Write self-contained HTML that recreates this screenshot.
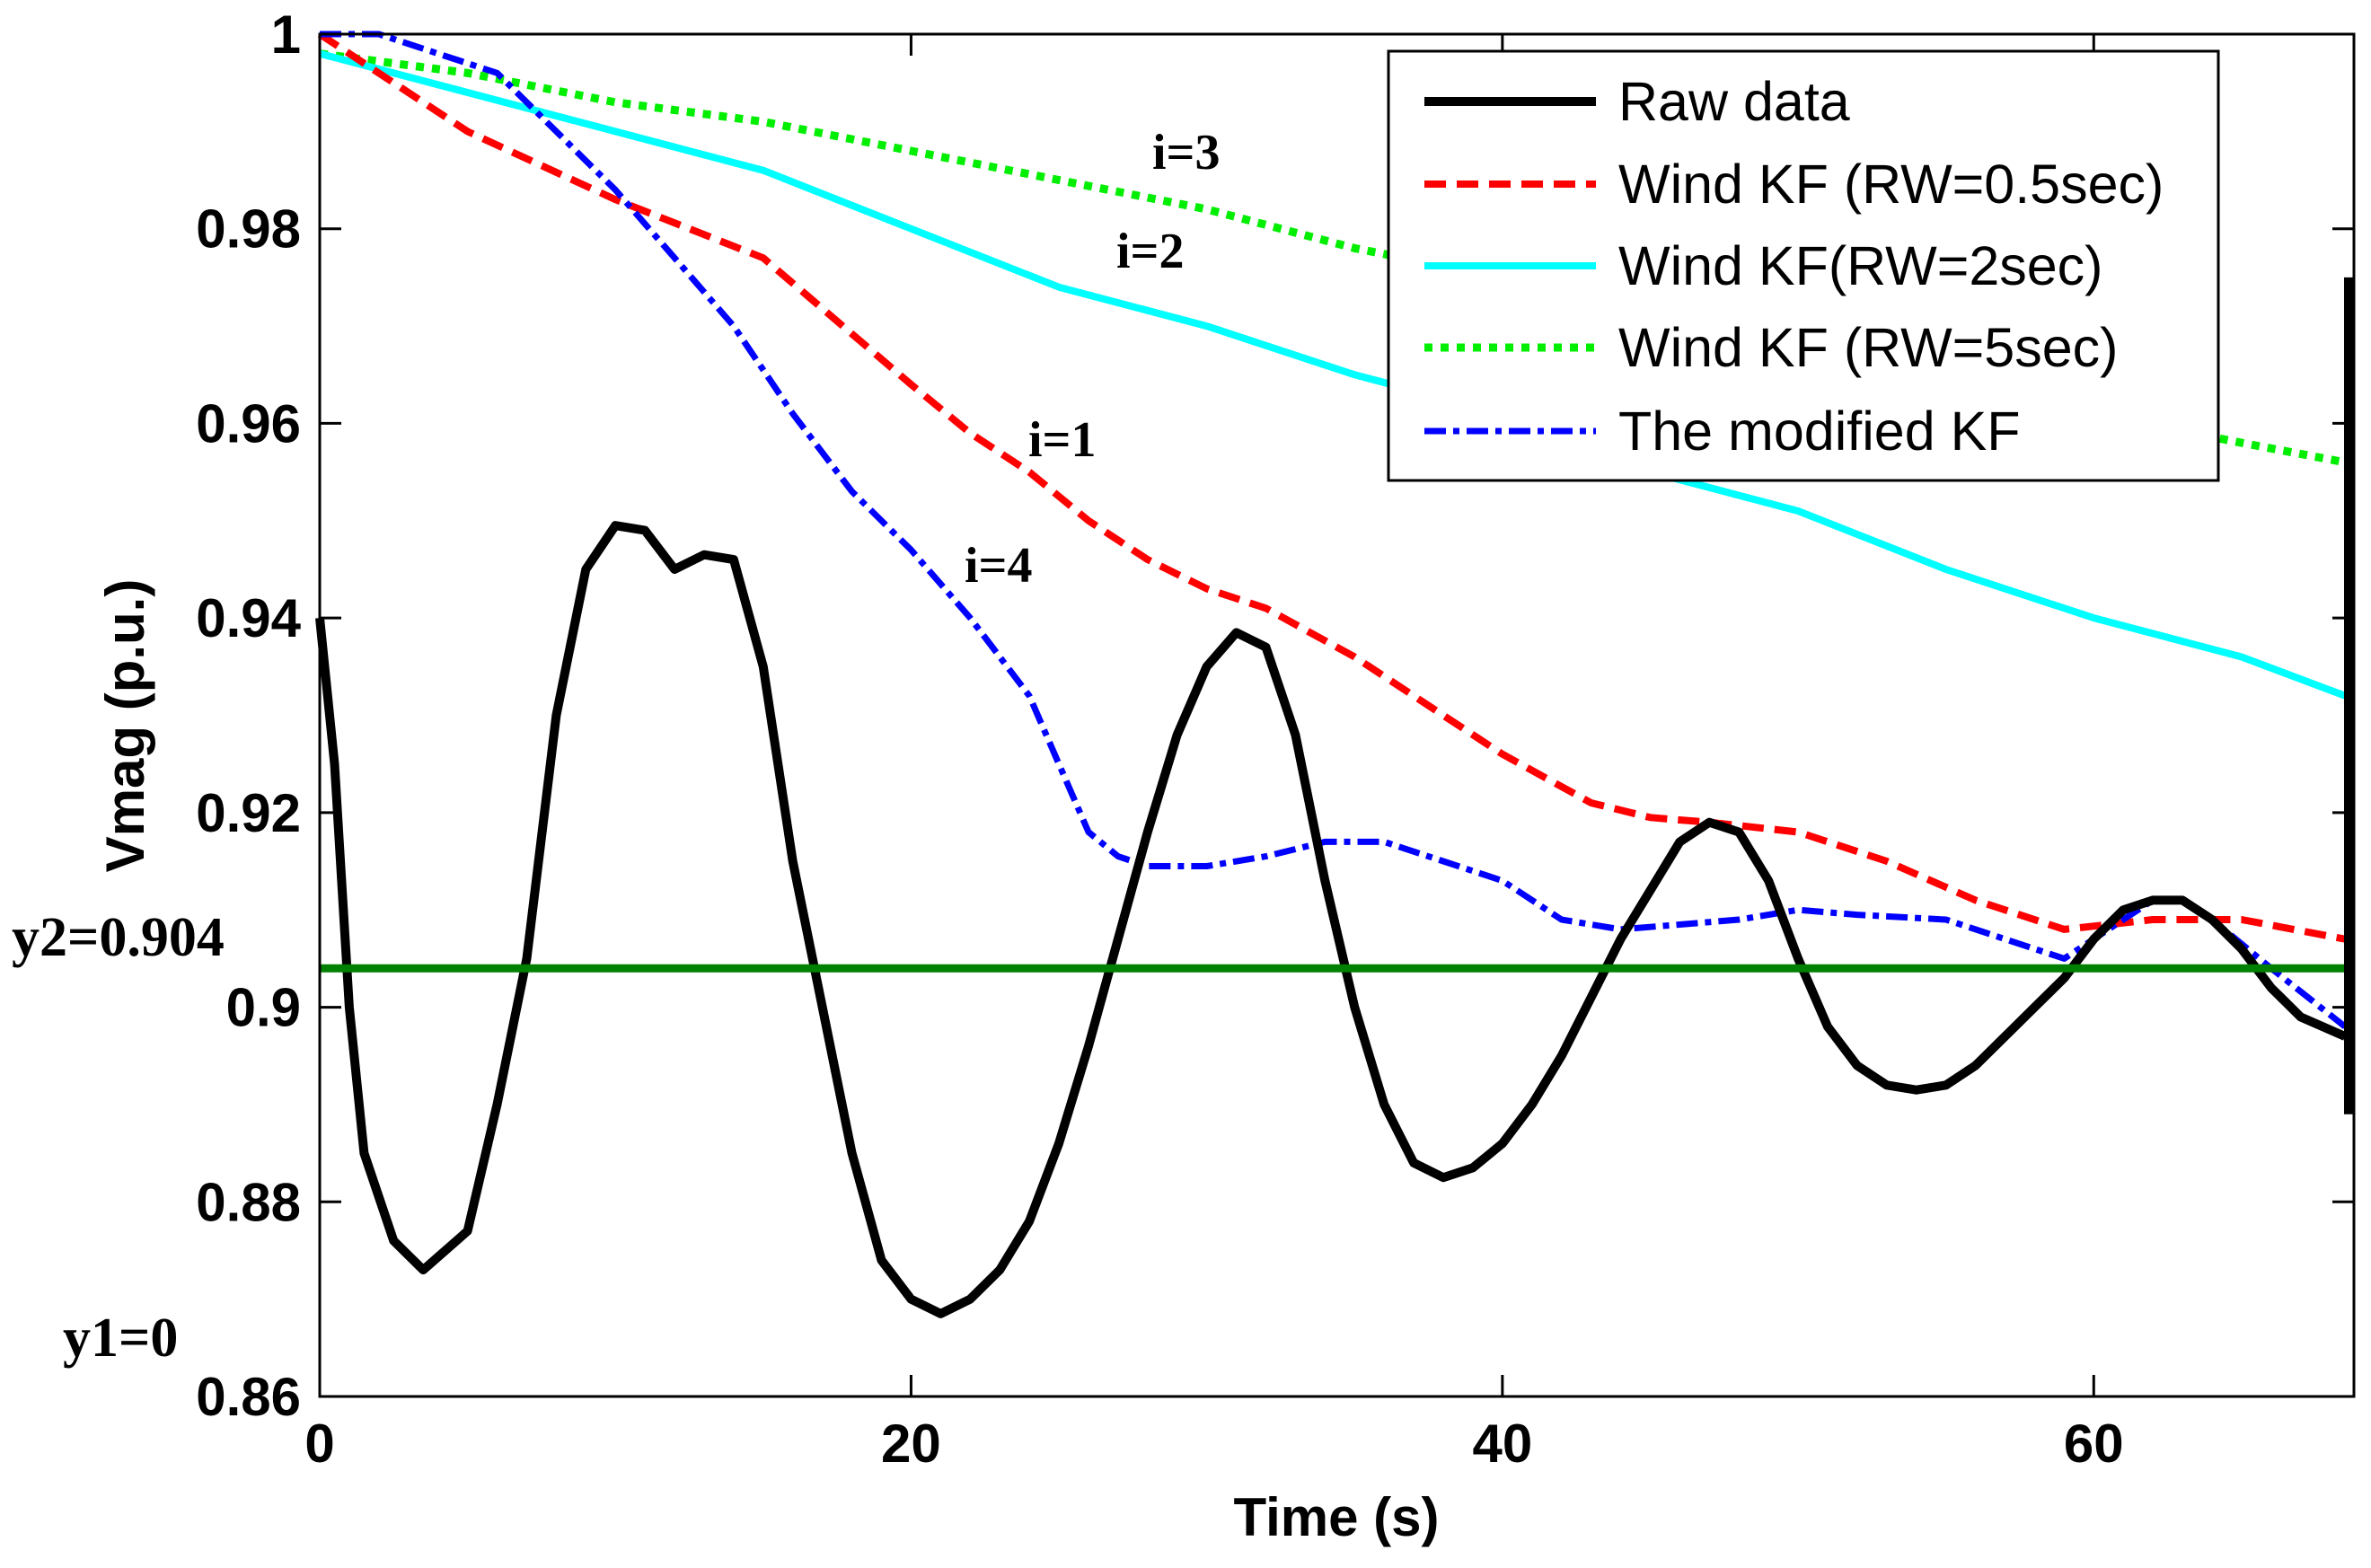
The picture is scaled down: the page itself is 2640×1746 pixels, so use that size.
<!DOCTYPE html>
<html><head><meta charset="utf-8">
<style>html,body{margin:0;padding:0;background:#fff}svg{display:block}</style>
</head><body>
<svg id="chart" xmlns="http://www.w3.org/2000/svg" width="2640" height="1746" viewBox="0 0 2640 1746">
<rect width="2640" height="1746" fill="#fff"/>
<g id="marks"></g>
<g id="axes"></g>
</svg>
<script>
const xTicks = [0, 20, 40, 60];
const yTicks = [0.86, 0.88, 0.9, 0.92, 0.94, 0.96, 0.98, 1];
const yTickLabels = ["0.86", "0.88", "0.9", "0.92", "0.94", "0.96", "0.98", "1"];
const rawT = [0,0.5,1,1.5,2.5,3.5,5,6,7,8,9,10,11,12,13,14,15,16,17,18,19,20,21,22,23,24,25,26,27,28,29,30,31,32,33,34,35,36,37,38,39,40,41,42,43,44,45,46,47,48,49,50,51,52,53,54,55,56,57,58,59,60,61,62,63,64,65,66,67,68.5];
const rawV = [0.94,0.925,0.9,0.885,0.876,0.873,0.877,0.89,0.905,0.93,0.945,0.9495,0.949,0.945,0.9465,0.946,0.935,0.915,0.9,0.885,0.874,0.87,0.8685,0.87,0.873,0.878,0.886,0.896,0.907,0.918,0.928,0.935,0.9385,0.937,0.928,0.913,0.9,0.89,0.884,0.8825,0.8835,0.886,0.89,0.895,0.901,0.907,0.912,0.917,0.919,0.918,0.913,0.905,0.898,0.894,0.892,0.8915,0.892,0.894,0.897,0.9,0.903,0.907,0.91,0.911,0.911,0.909,0.906,0.902,0.899,0.897];
const redT = [0,5,10,15,20,22,24,26,28,30,32,35,38,40,43,45,47,50,53,56,59,62,65,68.5];
const redV = [1,0.99,0.983,0.977,0.964,0.959,0.955,0.95,0.946,0.943,0.941,0.936,0.93,0.926,0.921,0.9195,0.919,0.918,0.915,0.911,0.908,0.909,0.909,0.907];
const cyanT = [0,5,10,15,20,25,30,35,40,45,50,55,60,65,68.5];
const cyanV = [0.998,0.994,0.99,0.986,0.98,0.974,0.97,0.965,0.961,0.955,0.951,0.945,0.94,0.936,0.932];
const greenT = [0,5,10,15,20,25,30,35,40,60,65,68.5];
const greenV = [0.998,0.996,0.993,0.991,0.988,0.985,0.982,0.978,0.975,0.961,0.958,0.956];
const blueT = [0,2,4,6,8,10,12,14,16,18,20,22,24,25,26,27,28,30,32,34,36,38,40,42,44,46,48,50,52,55,58,59,61,62,63,64,66,68.5];
const blueV = [1,1,0.998,0.996,0.99,0.984,0.977,0.97,0.961,0.953,0.947,0.94,0.932,0.925,0.918,0.9155,0.9145,0.9145,0.9155,0.917,0.917,0.915,0.913,0.909,0.908,0.9085,0.909,0.91,0.9095,0.909,0.906,0.905,0.909,0.911,0.911,0.909,0.904,0.898];
const threshold = 0.904;

const L=356,R=2621,T=38,B=1555,XMAX=68.8,YMIN=0.86,YMAX=1;
const xs=t=>L+(t/XMAX)*(R-L);
const ys=v=>B-(v-YMIN)/(YMAX-YMIN)*(B-T);
const NS="http://www.w3.org/2000/svg";
const marks=document.getElementById('marks'), axes=document.getElementById('axes');
function mk(tag,attrs,parent){const e=document.createElementNS(NS,tag);for(const k in attrs)e.setAttribute(k,attrs[k]);parent.appendChild(e);return e;}
function series(T_,V_,color,w,dash,name){
  const p=mk('path',{d:T_.map((t,i)=>(i?'L':'M')+xs(t).toFixed(1)+','+ys(V_[i]).toFixed(1)).join(''),fill:'none',stroke:color,'stroke-width':w,'stroke-dasharray':dash,'stroke-linejoin':'round'},marks);
  
  
}
series(greenT,greenV,'#00ee00',9,'9 9','series-rw5');
series(cyanT,cyanV,'#00ffff',8,'none','series-rw2');
series(redT,redV,'#ff0000',8,'24 12','series-rw05');
series(blueT,blueV,'#0000ff',7,'24 8 7 8','series-modified-kf');
series(rawT,rawV,'#000000',10,'none','series-raw');
const th=mk('line',{x1:L,x2:R,y1:ys(threshold),y2:ys(threshold),stroke:'#008000','stroke-width':9},marks);


const vb=mk('line',{x1:2615,x2:2615,y1:ys(0.975),y2:ys(0.889),stroke:'#000','stroke-width':10},marks);



const box=mk('rect',{x:L,y:T,width:R-L,height:B-T,fill:'none',stroke:'#000','stroke-width':3},axes);


xTicks.forEach(t=>{
  mk('line',{x1:xs(t),x2:xs(t),y1:B,y2:B-24,stroke:'#000','stroke-width':3},axes);
  mk('line',{x1:xs(t),x2:xs(t),y1:T,y2:T+24,stroke:'#000','stroke-width':3},axes);
  const tx=mk('text',{x:xs(t),y:1628,'text-anchor':'middle','font-family':'Liberation Sans, sans-serif','font-weight':'bold','font-size':60},axes);
  tx.textContent=t;
  
  
});
yTicks.forEach((v,i)=>{
  mk('line',{x1:L,x2:L+24,y1:ys(v),y2:ys(v),stroke:'#000','stroke-width':3},axes);
  mk('line',{x1:R,x2:R-24,y1:ys(v),y2:ys(v),stroke:'#000','stroke-width':3},axes);
  const tx=mk('text',{x:335,y:ys(v)+21,'text-anchor':'end','font-family':'Liberation Sans, sans-serif','font-weight':'bold','font-size':60},axes);
  tx.textContent=yTickLabels[i];
  
  
});
</script>
<svg style="position:absolute;left:0;top:0" width="2640" height="1746" xmlns="http://www.w3.org/2000/svg">
<text x="1488" y="1710" text-anchor="middle" font-family="Liberation Sans, sans-serif" font-weight="bold" font-size="60">Time (s)</text>
<text transform="translate(160,808) rotate(-90)" text-anchor="middle" font-family="Liberation Sans, sans-serif" font-weight="bold" font-size="60">Vmag (p.u.)</text>
<g font-family="Liberation Serif, serif" font-weight="bold">
<text x="13" y="1064" font-size="62">y2=0.904</text>
<text x="70" y="1510" font-size="62">y1=0</text>
<text x="1283" y="188" font-size="56">i=3</text>
<text x="1243" y="298" font-size="56">i=2</text>
<text x="1145" y="508" font-size="56">i=1</text>
<text x="1074" y="648" font-size="56">i=4</text>
</g>
<g>
<rect x="1546" y="57" width="924" height="478" fill="#fff" stroke="#000" stroke-width="3"/>
<g font-family="Liberation Sans, sans-serif" font-size="61">
<line x1="1586" x2="1777" y1="113" y2="113" stroke="#000" stroke-width="10"/>
<text x="1802" y="134">Raw data</text>
<line x1="1586" x2="1777" y1="205" y2="205" stroke="#f00" stroke-width="8" stroke-dasharray="24 12"/>
<text x="1802" y="226">Wind KF (RW=0.5sec)</text>
<line x1="1586" x2="1777" y1="296" y2="296" stroke="#0ff" stroke-width="8"/>
<text x="1802" y="317">Wind KF(RW=2sec)</text>
<line x1="1586" x2="1777" y1="387" y2="387" stroke="#0e0" stroke-width="9" stroke-dasharray="9 9"/>
<text x="1802" y="408">Wind KF (RW=5sec)</text>
<line x1="1586" x2="1777" y1="480" y2="480" stroke="#00f" stroke-width="7" stroke-dasharray="24 8 7 8"/>
<text x="1802" y="501">The modified KF</text>
</g>
</g>
</svg>
</body></html>
